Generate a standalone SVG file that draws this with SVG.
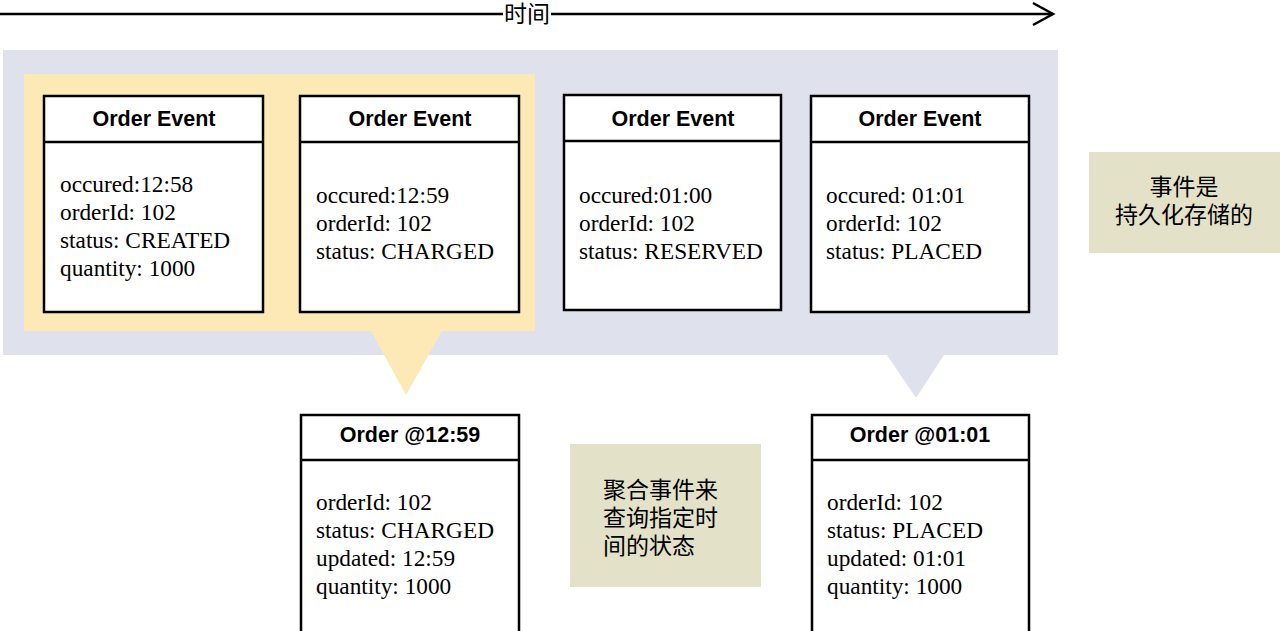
<svg xmlns="http://www.w3.org/2000/svg" width="1280" height="631" viewBox="0 0 1280 631">
<style>
.box{fill:#fff;stroke:#000;stroke-width:2.5}
.hdr{font-family:"Liberation Sans",Arial,sans-serif;font-weight:bold;font-size:21.5px;fill:#000;text-anchor:middle}
.body{font-family:"Liberation Serif","Times New Roman",serif;font-size:23.3px;fill:#000}
.cjk{font-family:"Liberation Serif","Noto Sans CJK SC",serif;font-size:23px;fill:#000}
.note{fill:#e4e1c9}
</style>
<rect width="1280" height="631" fill="#fff"/>
<g id="backgrounds">
<rect x="3" y="50" width="1055" height="305" fill="#dfe1ec"/>
<polygon points="887,355 944,355 916,398" fill="#dfe1ec"/>
<rect x="24" y="74" width="511" height="257" fill="#fce9b6"/>
<polygon points="371,331 442,331 406,395" fill="#fce9b6"/>
</g>
<g id="connectors">
<line x1="0" y1="14" x2="503" y2="14" stroke="#000" stroke-width="2.5"/>
<line x1="551" y1="14" x2="1053" y2="14" stroke="#000" stroke-width="2.5"/>
<polyline points="1033,3 1053,14 1033,25" fill="none" stroke="#000" stroke-width="2.5"/>
<text x="527" y="22" class="cjk" text-anchor="middle" font-size="21">时间</text>
</g>
<g id="event1">
<rect class="box" x="44" y="96" width="219" height="216"/>
<line x1="44" y1="142" x2="263" y2="142" stroke="#000" stroke-width="2.5"/>
<text class="hdr" x="154" y="126">Order Event</text>
<text class="body" x="60" y="192">occured:12:58</text>
<text class="body" x="60" y="220">orderId: 102</text>
<text class="body" x="60" y="248">status: CREATED</text>
<text class="body" x="60" y="276">quantity: 1000</text>
</g>
<g id="event2">
<rect class="box" x="300" y="96" width="219" height="216"/>
<line x1="300" y1="142" x2="519" y2="142" stroke="#000" stroke-width="2.5"/>
<text class="hdr" x="410" y="126">Order Event</text>
<text class="body" x="316" y="203">occured:12:59</text>
<text class="body" x="316" y="231">orderId: 102</text>
<text class="body" x="316" y="259">status: CHARGED</text>
</g>
<g id="event3">
<rect class="box" x="564" y="95" width="217" height="215"/>
<line x1="564" y1="141" x2="781" y2="141" stroke="#000" stroke-width="2.5"/>
<text class="hdr" x="673" y="126">Order Event</text>
<text class="body" x="579" y="203">occured:01:00</text>
<text class="body" x="579" y="231">orderId: 102</text>
<text class="body" x="579" y="259">status: RESERVED</text>
</g>
<g id="event4">
<rect class="box" x="811" y="96" width="218" height="216"/>
<line x1="811" y1="142" x2="1029" y2="142" stroke="#000" stroke-width="2.5"/>
<text class="hdr" x="920" y="126">Order Event</text>
<text class="body" x="826" y="203">occured: 01:01</text>
<text class="body" x="826" y="231">orderId: 102</text>
<text class="body" x="826" y="259">status: PLACED</text>
</g>
<g id="note-persist">
<rect class="note" x="1089" y="152" width="191" height="101"/>
<text class="cjk" x="1184" y="195" text-anchor="middle">事件是</text>
<text class="cjk" x="1184" y="223" text-anchor="middle">持久化存储的</text>
</g>
<g id="order1259">
<rect class="box" x="301" y="415" width="218" height="220"/>
<line x1="301" y1="460" x2="519" y2="460" stroke="#000" stroke-width="2.5"/>
<text class="hdr" x="410" y="442" font-size="21">Order @12:59</text>
<text class="body" x="316" y="510">orderId: 102</text>
<text class="body" x="316" y="538">status: CHARGED</text>
<text class="body" x="316" y="566">updated: 12:59</text>
<text class="body" x="316" y="594">quantity: 1000</text>
</g>
<g id="note-aggregate">
<rect class="note" x="570" y="444" width="191" height="143"/>
<text class="cjk" x="603" y="498">聚合事件来</text>
<text class="cjk" x="603" y="526">查询指定时</text>
<text class="cjk" x="603" y="554">间的状态</text>
</g>
<g id="order0101">
<rect class="box" x="812" y="415" width="217" height="220"/>
<line x1="812" y1="460" x2="1029" y2="460" stroke="#000" stroke-width="2.5"/>
<text class="hdr" x="920" y="442" font-size="21">Order @01:01</text>
<text class="body" x="827" y="510">orderId: 102</text>
<text class="body" x="827" y="538">status: PLACED</text>
<text class="body" x="827" y="566">updated: 01:01</text>
<text class="body" x="827" y="594">quantity: 1000</text>
</g>
</svg>
